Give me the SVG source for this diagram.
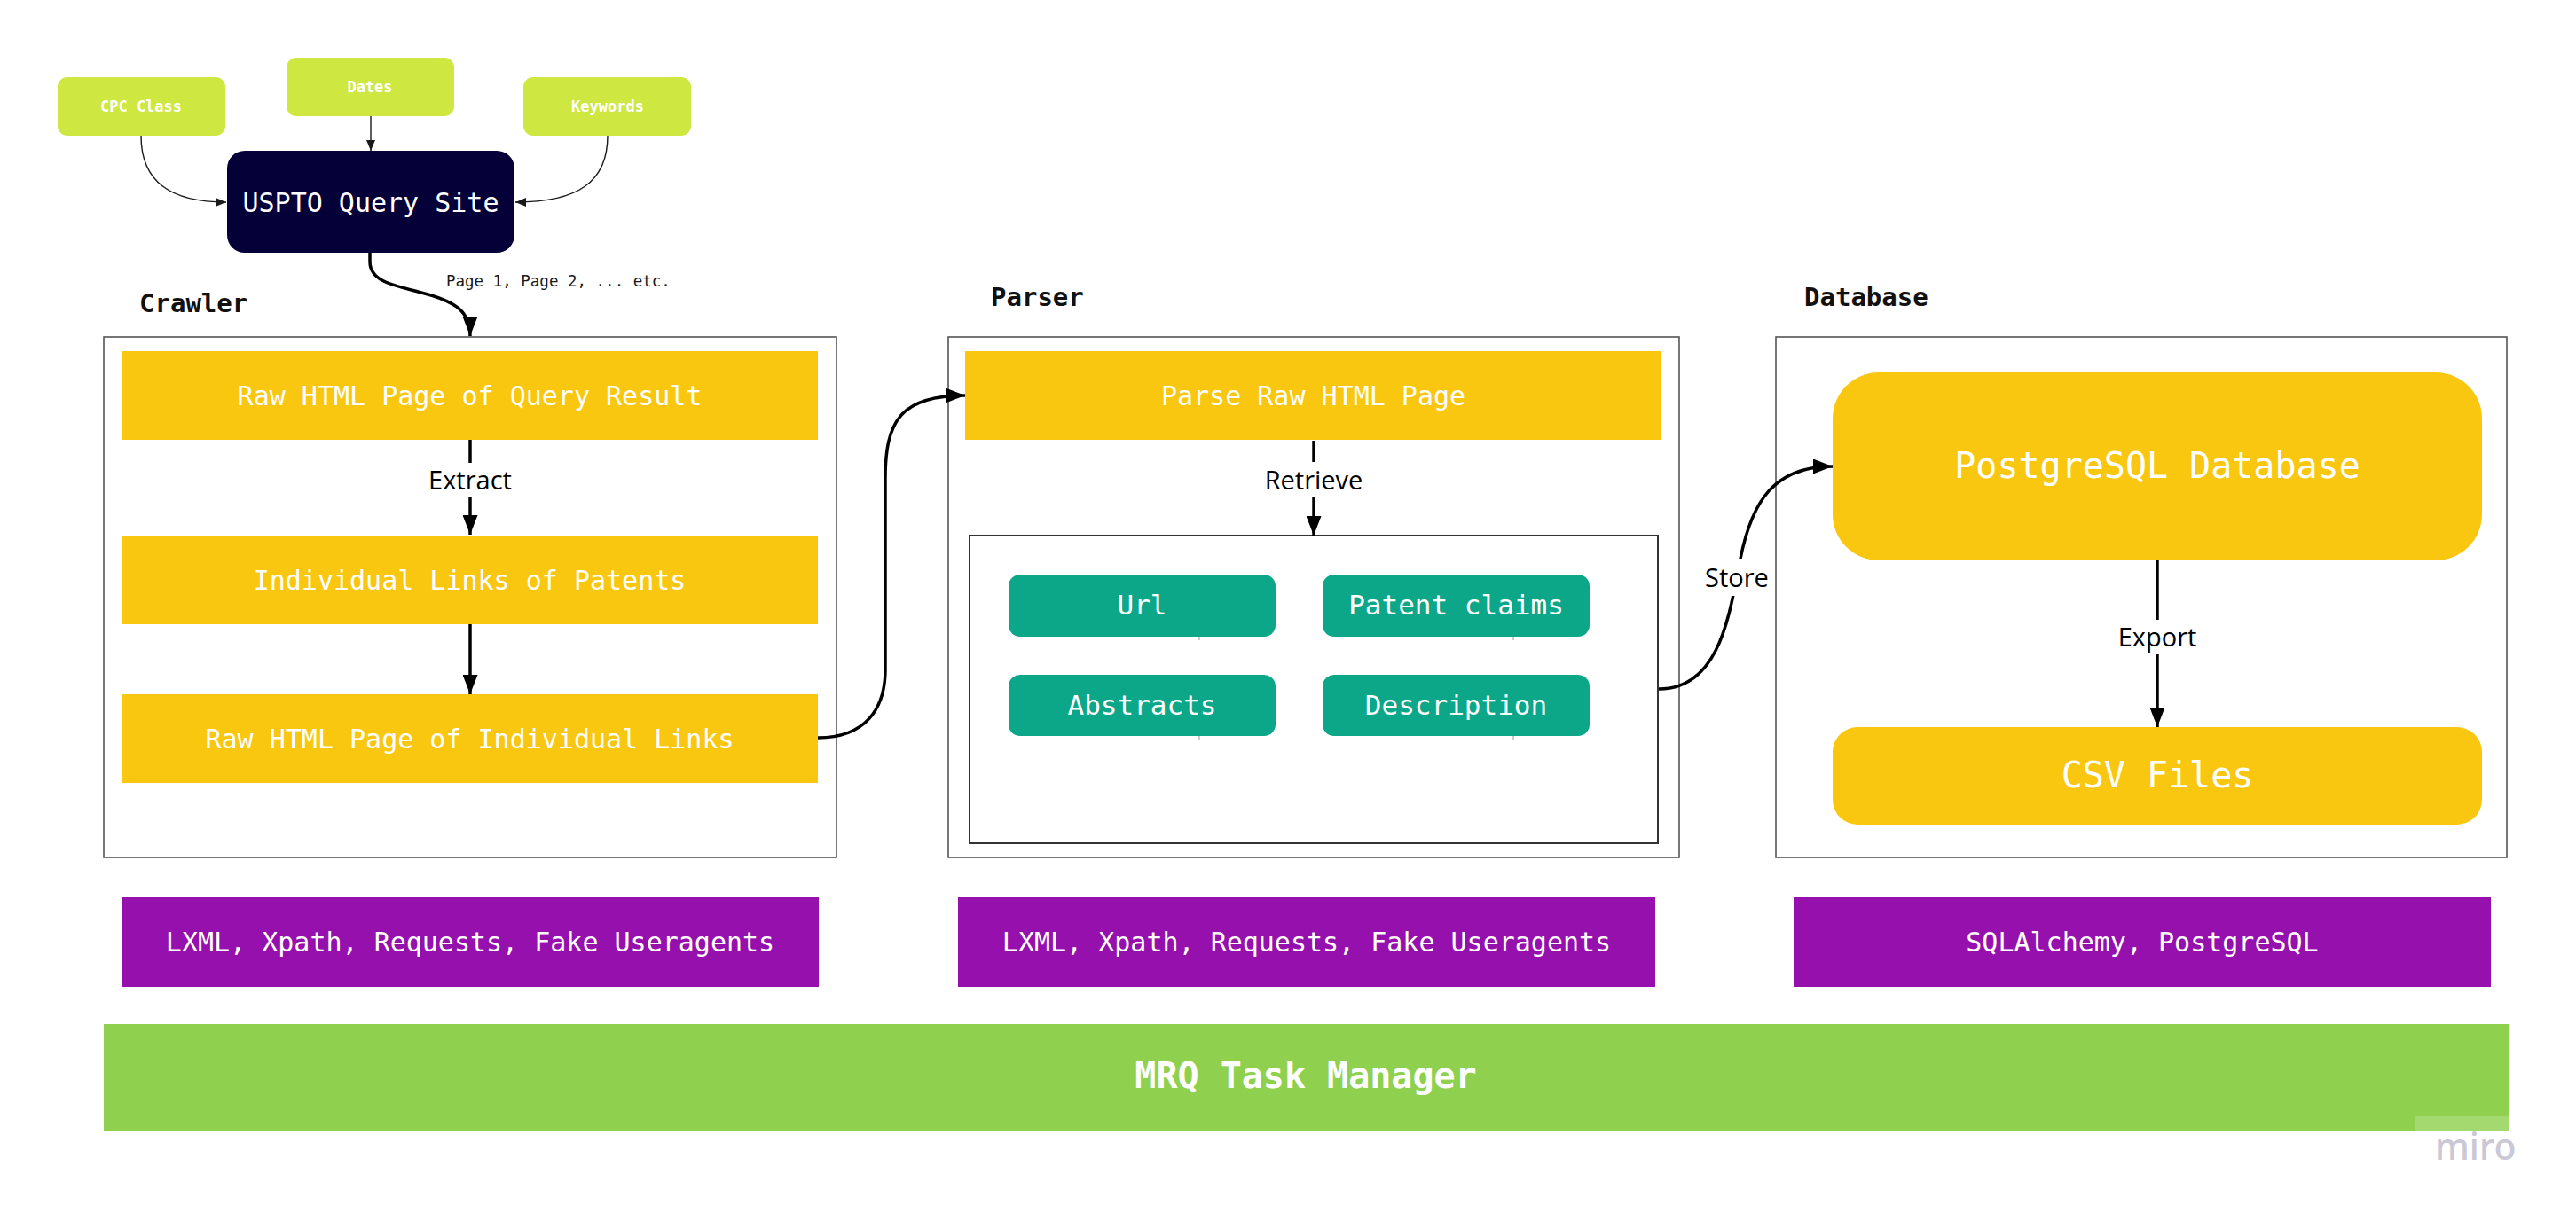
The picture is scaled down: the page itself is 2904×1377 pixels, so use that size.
<svg xmlns="http://www.w3.org/2000/svg" width="2904" height="1377" viewBox="0 0 2904 1377">
<style>
.mono{font-family:"DejaVu Sans Mono","Liberation Mono",monospace;}
.sans{font-family:"Open Sans","Noto Sans",sans-serif;}
.wt{fill:#ffffff;text-anchor:middle;dominant-baseline:central;}
.sec{fill:#ffffff;stroke:#555555;stroke-width:1.6;}
.yel{fill:#FAC710;}
.grn{fill:#0CA789;}
.pur{fill:#9510AC;}
.lime{fill:#CEE741;}
.thin{fill:none;stroke:#1a1a1a;stroke-width:1.4;}
.thick{fill:none;stroke:#000000;stroke-width:3.5;}
.lbl{fill:#000000;font-size:29px;text-anchor:middle;dominant-baseline:central;}
.head{fill:#111111;font-size:29px;font-weight:bold;}
</style>
<defs>
<marker id="ah" markerUnits="userSpaceOnUse" markerWidth="13" markerHeight="10" refX="12" refY="5" orient="auto">
<path d="M0,0 L12,5 L0,10 z" fill="#1a1a1a"/>
</marker>
<marker id="AH" markerUnits="userSpaceOnUse" markerWidth="23" markerHeight="17" refX="22" refY="8.5" orient="auto">
<path d="M0,0 L22,8.5 L0,17 z" fill="#000000"/>
</marker>
</defs>
<rect width="2904" height="1377" fill="#ffffff"/>

<!-- section frames -->
<g id="crawler">
<text class="mono head" x="157" y="352">Crawler</text>
<rect class="sec" x="117" y="380" width="826" height="587"/>
</g>
<g id="parser">
<text class="mono head" x="1117" y="345">Parser</text>
<rect class="sec" x="1069" y="380" width="824" height="587"/>
</g>
<g id="database">
<text class="mono head" x="2034" y="345">Database</text>
<rect class="sec" x="2002" y="380" width="824" height="587"/>
</g>

<!-- inputs -->
<g id="cpc-class">
<rect class="lime" x="65" y="87" width="189" height="66" rx="11"/>
<text class="mono wt" x="159" y="120" font-size="17" font-weight="bold">CPC Class</text>
</g>
<g id="dates">
<rect class="lime" x="323" y="65" width="189" height="66" rx="11"/>
<text class="mono wt" x="417" y="98" font-size="17" font-weight="bold">Dates</text>
</g>
<g id="keywords">
<rect class="lime" x="590" y="87" width="189" height="66" rx="11"/>
<text class="mono wt" x="685" y="120" font-size="17" font-weight="bold">Keywords</text>
</g>
<g id="uspto">
<rect x="256" y="170" width="324" height="115" rx="20" fill="#050038"/>
<text class="mono wt" x="418" y="228" font-size="30">USPTO Query Site</text>
</g>

<!-- crawler content -->
<g id="raw-query">
<rect class="yel" x="137" y="396" width="785" height="100"/>
<text class="mono wt" x="529.5" y="446" font-size="30">Raw HTML Page of Query Result</text>
</g>
<g id="links">
<rect class="yel" x="137" y="604" width="785" height="100"/>
<text class="mono wt" x="529.5" y="654" font-size="30">Individual Links of Patents</text>
</g>
<g id="raw-links">
<rect class="yel" x="137" y="783" width="785" height="100"/>
<text class="mono wt" x="529.5" y="833" font-size="30">Raw HTML Page of Individual Links</text>
</g>

<!-- parser content -->
<g id="parse-raw">
<rect class="yel" x="1088" y="396" width="785" height="100"/>
<text class="mono wt" x="1480.5" y="446" font-size="30">Parse Raw HTML Page</text>
</g>
<g id="fields">
<rect x="1093" y="604" width="776" height="347" fill="#ffffff" stroke="#333333" stroke-width="2"/>
</g>
<g id="url">
<rect class="grn" x="1137" y="648" width="301" height="70" rx="13"/>
<text class="mono wt" x="1287.5" y="682" font-size="31">Url</text>
</g>
<g id="claims">
<rect class="grn" x="1491" y="648" width="301" height="70" rx="13"/>
<text class="mono wt" x="1641.5" y="682" font-size="31">Patent claims</text>
</g>
<g id="abstracts">
<rect class="grn" x="1137" y="761" width="301" height="69" rx="13"/>
<text class="mono wt" x="1287.5" y="795" font-size="31">Abstracts</text>
</g>
<g id="description">
<rect class="grn" x="1491" y="761" width="301" height="69" rx="13"/>
<text class="mono wt" x="1641.5" y="795" font-size="31">Description</text>
</g>

<!-- database content -->
<g id="postgres">
<rect class="yel" x="2066" y="420" width="732" height="212" rx="52"/>
<text class="mono wt" x="2432" y="525" font-size="40">PostgreSQL Database</text>
</g>
<g id="csv">
<rect class="yel" x="2066" y="820" width="732" height="110" rx="28"/>
<text class="mono wt" x="2432" y="874" font-size="40">CSV Files</text>
</g>

<!-- tools -->
<g id="tools-crawler">
<rect class="pur" x="137" y="1012" width="786" height="101"/>
<text class="mono wt" x="530" y="1062" font-size="30">LXML, Xpath, Requests, Fake Useragents</text>
</g>
<g id="tools-parser">
<rect class="pur" x="1080" y="1012" width="786" height="101"/>
<text class="mono wt" x="1473" y="1062" font-size="30">LXML, Xpath, Requests, Fake Useragents</text>
</g>
<g id="tools-db">
<rect class="pur" x="2022" y="1012" width="786" height="101"/>
<text class="mono wt" x="2415" y="1062" font-size="30">SQLAlchemy, PostgreSQL</text>
</g>
<g id="mrq">
<rect x="117" y="1155" width="2711" height="120" fill="#8FD14F"/>
<text class="mono wt" x="1472" y="1213" font-size="40" font-weight="bold">MRQ Task Manager</text>
</g>

<!-- connectors -->
<g id="connectors">
<path class="thin" d="M159,153 C159,205 192,228 255,228" marker-end="url(#ah)"/>
<path class="thin" d="M418,131 L418,170" marker-end="url(#ah)"/>
<path class="thin" d="M685,153 C685,205 652,228 581,228" marker-end="url(#ah)"/>
<path class="thick" d="M417,285 L417,295 C417,318 445,322 475,330 C515,340 530,352 530,379" marker-end="url(#AH)"/>
<path class="thick" d="M530,496 L530,522"/>
<path class="thick" d="M530,561 L530,603" marker-end="url(#AH)"/>
<path class="thick" d="M530,704 L530,783" marker-end="url(#AH)"/>
<path class="thick" d="M922,832 C975,832 998,800 998,755 L998,540 C998,475 1015,446 1088,446" marker-end="url(#AH)"/>
<path class="thick" d="M1481,497 L1481,521"/>
<path class="thick" d="M1481,561 L1481,604" marker-end="url(#AH)"/>
<path class="thick" d="M1870,777 C1940,777 1950,690 1962,630 C1975,565 2000,526 2066,526" marker-end="url(#AH)"/>
<path class="thick" d="M2432,632 L2432,699"/>
<path class="thick" d="M2432,738 L2432,820" marker-end="url(#AH)"/>
<rect x="1919" y="630" width="78" height="42" fill="#ffffff"/>
<path d="M1352,718 v4 M1706,718 v4 M1352,830 v4 M1706,830 v4" stroke="#999999" stroke-width="1"/>
<text class="mono" x="503" y="323" font-size="17.5" fill="#1a1a1a">Page 1, Page 2, ... etc.</text>
<text class="sans lbl" x="530" y="540">Extract</text>
<text class="sans lbl" x="1481" y="540">Retrieve</text>
<text class="sans lbl" x="1958" y="650">Store</text>
<text class="sans lbl" x="2432" y="717">Export</text>
</g>

<!-- watermark -->
<rect x="2723" y="1259" width="105" height="16" fill="#ffffff" fill-opacity="0.18"/>
<text x="2745" y="1308" font-family="Noto Sans, sans-serif" font-size="41" font-weight="500" fill="#C9C8D4">miro</text>
</svg>
